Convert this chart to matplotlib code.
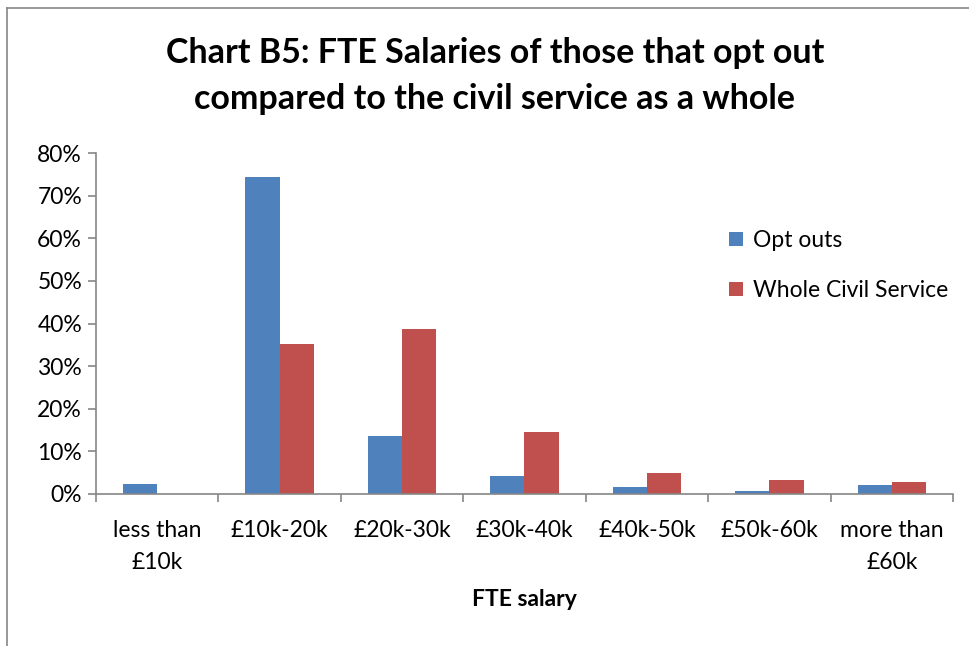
import matplotlib
matplotlib.use("Agg")
import matplotlib.pyplot as plt
import numpy as np
from matplotlib.lines import Line2D

# ---------------------------------------------------------------------------
# Data (percent of staff in each FTE salary band)
# ---------------------------------------------------------------------------
categories = ["less than\n£10k", "£10k-20k", "£20k-30k", "£30k-40k",
              "£40k-50k", "£50k-60k", "more than\n£60k"]
opt_outs = [2.4, 74.4, 13.6, 4.2, 1.6, 0.8, 2.0]
whole_cs = [0.0, 35.1, 38.7, 14.5, 4.9, 3.3, 2.7]
series_names = ["Opt outs", "Whole Civil Service"]

BLUE = "#4F81BD"
RED = "#C0504D"
GREY = "#868686"
FS = 16.5

plt.rcParams["font.family"] = ["Lato", "DejaVu Sans"]

fig = plt.figure(figsize=(9.7, 6.46), dpi=100)
ax = fig.add_axes([96 / 970, 152 / 646, 857 / 970, 341 / 646])

x = np.arange(len(categories))
w = 0.28
ax.bar(x - w / 2, opt_outs, width=w, color=BLUE, label=series_names[0])
ax.bar(x + w / 2, whole_cs, width=w, color=RED, label=series_names[1])

ax.set_xlim(-0.5, len(categories) - 0.5)
ax.set_ylim(0, 80)
ax.set_yticks(np.arange(0, 81, 10))
ax.set_yticklabels([f"{v}%" for v in range(0, 81, 10)], fontsize=FS)

# category labels centred, ticks on the boundaries
ax.set_xticks(x)
ax.set_xticklabels(categories, fontsize=FS, linespacing=1.6)
ax.tick_params(axis="x", length=0, pad=19)
ax.set_xticks(np.arange(-0.5, len(categories)), minor=True)
ax.tick_params(axis="x", which="minor", length=6, color=GREY, width=1.2)
ax.tick_params(axis="y", length=6, color=GREY, width=1.2, pad=4)

for side in ["top", "right"]:
    ax.spines[side].set_visible(False)
for side in ["left", "bottom"]:
    ax.spines[side].set_color(GREY)
    ax.spines[side].set_linewidth(1.2)

ax.set_xlabel("FTE salary", fontsize=FS, fontweight="bold", labelpad=12)

fig.text(0.51, 1 - 76 / 646,
         "Chart B5: FTE Salaries of those that opt out\ncompared to the civil service as a whole",
         ha="center", va="center", fontsize=24.5, fontweight="bold", linespacing=1.52)

ax.legend(loc="upper left", bbox_to_anchor=(0.715, 0.835), frameon=False,
          fontsize=FS, handlelength=0.6, handleheight=0.6, handletextpad=0.45,
          labelspacing=1.28)

# chart-area border (partially visible in the reference)
fig.add_artist(Line2D([7 / 970, 7 / 970], [0, 1 - 8 / 646], transform=fig.transFigure,
                      color=GREY, linewidth=1.2))
fig.add_artist(Line2D([7 / 970, 1], [1 - 8 / 646, 1 - 8 / 646], transform=fig.transFigure,
                      color=GREY, linewidth=1.2))

fig.savefig("out.png", dpi=100)
